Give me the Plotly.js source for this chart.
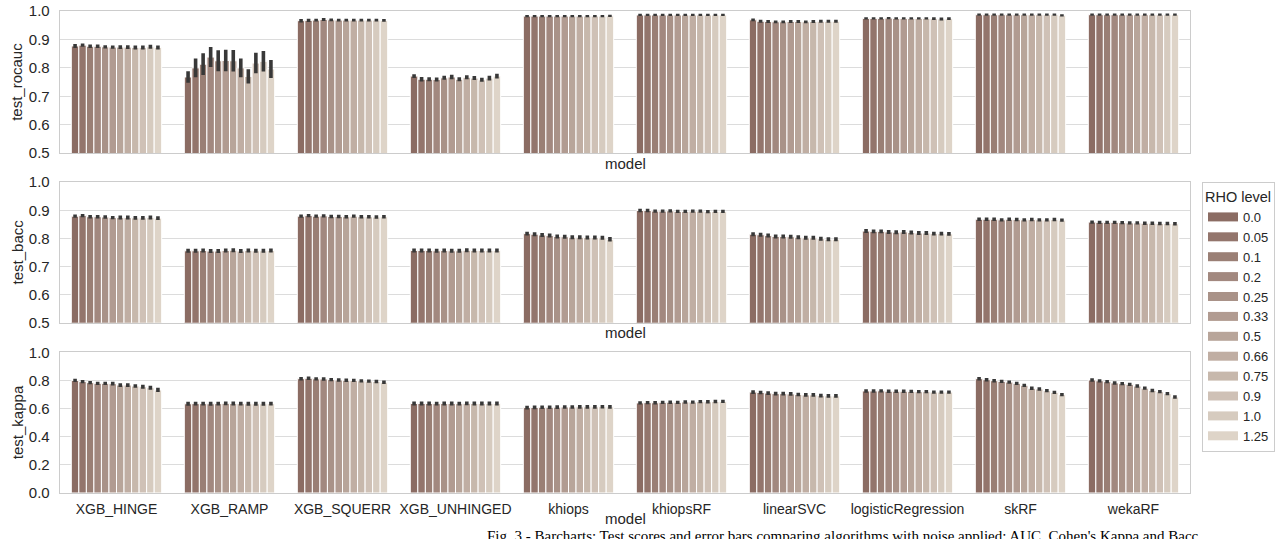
<!DOCTYPE html>
<html>
<head>
<meta charset="utf-8">
<script src="https://cdn.plot.ly/plotly-3.0.1.min.js"></script>
<style>html,body{margin:0;padding:0;background:#fff;}#chart{width:1286px;height:539px;}</style>
</head>
<body>
<div id="chart"></div>
<script>
const models = ['XGB_HINGE','XGB_RAMP','XGB_SQUERR','XGB_UNHINGED','khiops','khiopsRF','linearSVC','logisticRegression','skRF','wekaRF'];
const rhoLevels = ['0.0','0.05','0.1','0.2','0.25','0.33','0.5','0.66','0.75','0.9','1.0','1.25'];
const rhoColors = ['#8b6c63','#93756c','#9a7f75','#a2887f','#a99288','#b19b91','#b8a59a','#c0aea3','#c7b8ac','#cfc1b6','#d6cbbf','#ded4c8'];

// rows: models, columns: RHO levels
const rocaucMean = [
  [0.877,0.880,0.876,0.876,0.874,0.873,0.873,0.873,0.872,0.872,0.874,0.872],
  [0.768,0.800,0.813,0.838,0.825,0.826,0.825,0.800,0.770,0.817,0.823,0.796],
  [0.966,0.967,0.968,0.970,0.969,0.968,0.968,0.968,0.968,0.968,0.968,0.967],
  [0.771,0.760,0.760,0.759,0.765,0.768,0.760,0.767,0.764,0.758,0.764,0.771],
  [0.982,0.982,0.982,0.982,0.982,0.982,0.982,0.982,0.982,0.982,0.982,0.983],
  [0.986,0.986,0.986,0.986,0.986,0.986,0.986,0.986,0.986,0.986,0.986,0.986],
  [0.969,0.964,0.963,0.962,0.962,0.963,0.963,0.962,0.963,0.964,0.964,0.964],
  [0.974,0.974,0.974,0.975,0.974,0.974,0.974,0.974,0.974,0.973,0.972,0.973],
  [0.987,0.987,0.987,0.987,0.987,0.987,0.987,0.987,0.987,0.987,0.987,0.985],
  [0.987,0.987,0.987,0.987,0.987,0.987,0.987,0.987,0.987,0.987,0.987,0.987]
];
const rocaucErr = [
  [0.007,0.006,0.006,0.006,0.006,0.006,0.007,0.007,0.007,0.007,0.007,0.007],
  [0.020,0.033,0.038,0.035,0.037,0.038,0.038,0.033,0.025,0.036,0.036,0.032],
  [0.006,0.006,0.005,0.005,0.005,0.005,0.005,0.005,0.005,0.005,0.005,0.005],
  [0.007,0.008,0.007,0.007,0.007,0.008,0.007,0.007,0.007,0.007,0.008,0.008],
  [0.004,0.004,0.004,0.004,0.004,0.004,0.004,0.004,0.004,0.004,0.004,0.004],
  [0.004,0.004,0.004,0.004,0.004,0.004,0.004,0.004,0.004,0.004,0.004,0.004],
  [0.005,0.005,0.005,0.005,0.005,0.005,0.005,0.005,0.005,0.005,0.005,0.005],
  [0.004,0.004,0.004,0.004,0.004,0.004,0.004,0.004,0.004,0.005,0.005,0.005],
  [0.004,0.004,0.004,0.004,0.004,0.004,0.004,0.004,0.004,0.004,0.004,0.004],
  [0.004,0.004,0.004,0.004,0.004,0.004,0.004,0.004,0.004,0.004,0.004,0.004]
];
const baccMean = [
  [0.879,0.881,0.877,0.877,0.876,0.874,0.874,0.874,0.873,0.873,0.874,0.872],
  [0.756,0.756,0.757,0.755,0.755,0.757,0.758,0.755,0.757,0.756,0.756,0.757],
  [0.879,0.881,0.879,0.880,0.878,0.878,0.877,0.879,0.877,0.877,0.876,0.877],
  [0.757,0.757,0.757,0.756,0.757,0.756,0.756,0.758,0.757,0.757,0.757,0.757],
  [0.817,0.815,0.812,0.810,0.807,0.806,0.804,0.804,0.803,0.803,0.802,0.797],
  [0.899,0.899,0.897,0.897,0.898,0.896,0.896,0.897,0.897,0.895,0.896,0.896],
  [0.815,0.813,0.810,0.807,0.807,0.806,0.804,0.802,0.802,0.799,0.797,0.797],
  [0.826,0.825,0.825,0.823,0.822,0.823,0.821,0.819,0.819,0.817,0.817,0.816],
  [0.868,0.868,0.868,0.866,0.868,0.867,0.866,0.867,0.866,0.866,0.867,0.865],
  [0.858,0.857,0.857,0.857,0.856,0.855,0.855,0.854,0.854,0.853,0.853,0.852]
];
const baccErr = [
  [0.006,0.006,0.006,0.006,0.006,0.006,0.007,0.007,0.007,0.007,0.007,0.007],
  [0.007,0.007,0.007,0.007,0.007,0.007,0.007,0.007,0.007,0.007,0.007,0.007],
  [0.006,0.006,0.006,0.006,0.006,0.006,0.006,0.006,0.006,0.006,0.006,0.006],
  [0.007,0.007,0.007,0.007,0.007,0.007,0.007,0.007,0.007,0.007,0.007,0.007],
  [0.007,0.007,0.007,0.007,0.007,0.007,0.007,0.007,0.007,0.007,0.007,0.008],
  [0.006,0.006,0.006,0.006,0.006,0.006,0.006,0.006,0.006,0.006,0.006,0.006],
  [0.007,0.007,0.007,0.007,0.007,0.007,0.007,0.007,0.007,0.007,0.007,0.007],
  [0.007,0.007,0.007,0.007,0.007,0.007,0.007,0.007,0.007,0.007,0.007,0.007],
  [0.006,0.006,0.006,0.006,0.006,0.006,0.006,0.006,0.006,0.006,0.006,0.006],
  [0.006,0.006,0.006,0.006,0.006,0.006,0.006,0.006,0.006,0.006,0.006,0.006]
];
const kappaMean = [
  [0.800,0.791,0.784,0.779,0.779,0.777,0.767,0.767,0.760,0.755,0.748,0.732],
  [0.634,0.635,0.635,0.634,0.635,0.637,0.636,0.635,0.634,0.634,0.634,0.635],
  [0.812,0.815,0.811,0.810,0.806,0.803,0.801,0.800,0.797,0.795,0.792,0.787],
  [0.636,0.636,0.636,0.635,0.636,0.636,0.635,0.637,0.636,0.636,0.636,0.636],
  [0.607,0.608,0.609,0.609,0.610,0.611,0.611,0.612,0.612,0.612,0.613,0.612],
  [0.640,0.642,0.641,0.644,0.645,0.644,0.647,0.646,0.649,0.648,0.650,0.651],
  [0.717,0.714,0.710,0.706,0.706,0.704,0.700,0.697,0.697,0.692,0.690,0.690],
  [0.725,0.725,0.726,0.723,0.723,0.723,0.722,0.720,0.720,0.717,0.717,0.717],
  [0.812,0.805,0.798,0.793,0.788,0.779,0.765,0.744,0.739,0.727,0.715,0.699],
  [0.803,0.797,0.791,0.782,0.777,0.772,0.760,0.745,0.728,0.720,0.706,0.682]
];
const kappaErr = [
  [0.012,0.012,0.012,0.012,0.012,0.013,0.013,0.013,0.013,0.014,0.014,0.015],
  [0.014,0.014,0.014,0.014,0.014,0.014,0.014,0.014,0.014,0.014,0.014,0.014],
  [0.012,0.012,0.012,0.012,0.012,0.012,0.012,0.012,0.012,0.012,0.012,0.012],
  [0.014,0.014,0.014,0.014,0.014,0.014,0.014,0.014,0.014,0.014,0.014,0.014],
  [0.013,0.013,0.013,0.013,0.013,0.013,0.013,0.013,0.013,0.013,0.013,0.013],
  [0.012,0.012,0.012,0.012,0.012,0.012,0.012,0.012,0.012,0.012,0.012,0.012],
  [0.013,0.013,0.013,0.013,0.013,0.013,0.013,0.013,0.013,0.013,0.013,0.013],
  [0.012,0.012,0.012,0.012,0.012,0.012,0.012,0.012,0.012,0.012,0.012,0.012],
  [0.012,0.012,0.012,0.012,0.012,0.012,0.012,0.012,0.012,0.012,0.012,0.012],
  [0.012,0.012,0.012,0.012,0.012,0.012,0.012,0.012,0.012,0.012,0.012,0.012]
];

const metrics = [
  {mean: rocaucMean, err: rocaucErr, xa: 'x', ya: 'y'},
  {mean: baccMean, err: baccErr, xa: 'x2', ya: 'y2'},
  {mean: kappaMean, err: kappaErr, xa: 'x3', ya: 'y3'}
];

const traces = [];
metrics.forEach((m, k) => {
  rhoLevels.forEach((rho, j) => {
    traces.push({
      type: 'bar',
      name: rho,
      legendgroup: rho,
      showlegend: false,
      x: models,
      y: models.map((_, i) => m.mean[i][j]),
      error_y: {type: 'data', array: models.map((_, i) => m.err[i][j]), visible: true,
                color: '#383838', thickness: 3.6, width: 0},
      marker: {color: rhoColors[j], line: {color: '#ffffff', width: 1}},
      xaxis: m.xa, yaxis: m.ya,
      hoverinfo: 'skip'
    });
  });
});
// legend entries (wide swatches like the reference)
rhoLevels.forEach((rho, j) => {
  traces.push({
    type: 'scatter', mode: 'lines', name: rho, legendgroup: rho, showlegend: true,
    x: [null], y: [null], xaxis: 'x', yaxis: 'y',
    line: {color: rhoColors[j], width: 9}, hoverinfo: 'skip'
  });
});

const FONT = 'Liberation Sans, Arial, sans-serif';
const TXT = '#262626';
const baseX = {
  type: 'category', showgrid: false, zeroline: false, showline: true, mirror: true,
  linecolor: '#cccccc', linewidth: 1.3, ticks: '', tickangle: 0,
  tickfont: {family: FONT, size: 14, color: TXT}, fixedrange: true
};
const baseY = {
  showgrid: true, gridcolor: '#dcdcdc', gridwidth: 1, zeroline: false, showline: true, mirror: true,
  linecolor: '#cccccc', linewidth: 1.3, ticks: '', tickformat: '.1f', ticklabelstandoff: 6,
  tickfont: {family: FONT, size: 15, color: TXT}, fixedrange: true
};

const layout = {
  width: 1286, height: 539,
  margin: {l: 60, r: 96, t: 11, b: 46},
  paper_bgcolor: '#ffffff', plot_bgcolor: '#ffffff',
  barmode: 'group', bargap: 0.2, bargroupgap: 0,
  font: {family: FONT, color: TXT},
  xaxis: Object.assign({}, baseX, {anchor: 'y', showticklabels: false}),
  xaxis2: Object.assign({}, baseX, {anchor: 'y2', showticklabels: false}),
  xaxis3: Object.assign({}, baseX, {anchor: 'y3', showticklabels: true, ticklabelstandoff: 3}),
  yaxis: Object.assign({}, baseY, {domain: [0.705, 1], range: [0.5, 1.0], dtick: 0.1, tick0: 0.5}),
  yaxis2: Object.assign({}, baseY, {domain: [0.353, 0.645], range: [0.5, 1.0], dtick: 0.1, tick0: 0.5}),
  yaxis3: Object.assign({}, baseY, {domain: [0, 0.292], range: [0, 1.0], dtick: 0.2, tick0: 0}),
  legend: {
    x: 1.0106, xanchor: 'left', y: 0.645, yanchor: 'top',
    bgcolor: '#ffffff', bordercolor: '#cccccc', borderwidth: 1,
    font: {family: FONT, size: 13, color: TXT},
    title: {text: 'RHO level', font: {family: FONT, size: 14.5, color: TXT}},
    traceorder: 'normal', itemclick: false, itemdoubleclick: false, itemwidth: 30
  },
  annotations: [
    {text: 'model', xref: 'paper', yref: 'paper', x: 0.5, y: 0.6846, xanchor: 'center', yanchor: 'middle', showarrow: false, font: {family: FONT, size: 15, color: TXT}},
    {text: 'model', xref: 'paper', yref: 'paper', x: 0.5, y: 0.332, xanchor: 'center', yanchor: 'middle', showarrow: false, font: {family: FONT, size: 15, color: TXT}},
    {text: 'model', xref: 'paper', yref: 'paper', x: 0.5, y: -0.053, xanchor: 'center', yanchor: 'middle', showarrow: false, font: {family: FONT, size: 15, color: TXT}},
    {text: 'test_rocauc', xref: 'paper', yref: 'paper', x: 0, xshift: -43, y: 0.853, xanchor: 'center', yanchor: 'middle', textangle: -90, showarrow: false, font: {family: FONT, size: 15, color: TXT}},
    {text: 'test_bacc', xref: 'paper', yref: 'paper', x: 0, xshift: -43, y: 0.499, xanchor: 'center', yanchor: 'middle', textangle: -90, showarrow: false, font: {family: FONT, size: 15, color: TXT}},
    {text: 'test_kappa', xref: 'paper', yref: 'paper', x: 0, xshift: -43, y: 0.147, xanchor: 'center', yanchor: 'middle', textangle: -90, showarrow: false, font: {family: FONT, size: 15, color: TXT}},
    {text: "Fig. 3 - Barcharts: Test scores and error bars comparing algorithms with noise applied: AUC, Cohen's Kappa and Bacc", xref: 'paper', yref: 'paper', x: 0.376, y: -0.089, xanchor: 'left', yanchor: 'middle', showarrow: false, font: {family: 'Liberation Serif, Times New Roman, serif', size: 15, color: '#000000'}}
  ]
};

Plotly.newPlot('chart', traces, layout, {staticPlot: true, displayModeBar: false});
</script>
</body>
</html>
